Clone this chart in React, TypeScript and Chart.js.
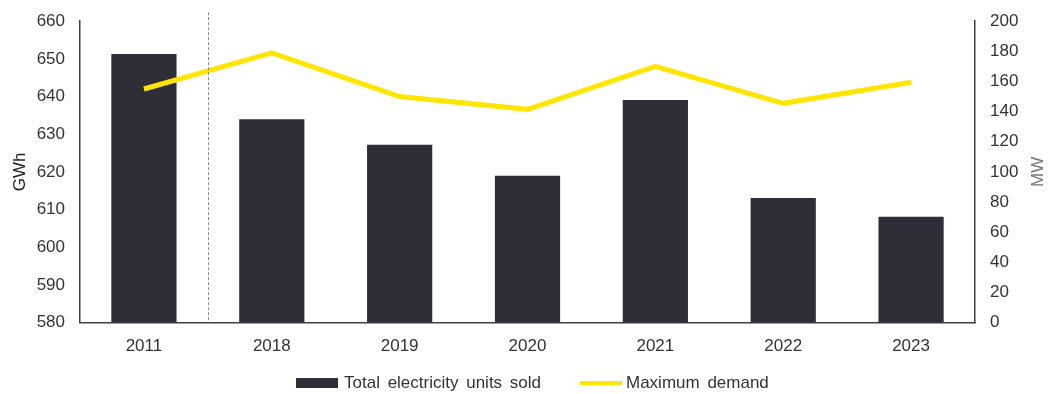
import React, { useEffect, useRef } from "react";
import { Chart, registerables } from "chart.js";

Chart.register(...registerables);

const categories = ["2011", "2018", "2019", "2020", "2021", "2022", "2023"];
const unitsSold = [651.3, 634.0, 627.2, 619.0, 639.1, 613.1, 608.1];
const maxDemand = [155, 179, 150, 141.5, 170, 145.5, 159.5];
const leftTicks = [580, 590, 600, 610, 620, 630, 640, 650, 660];
const rightTicks = [0, 20, 40, 60, 80, 100, 120, 140, 160, 180, 200];
const seriesNames = ["Total electricity units sold", "Maximum demand"];
const axisTitles = ["GWh", "MW"];

const FONT = "'Liberation Sans', Arial, sans-serif";
const FS = 17;
const BAR = "#2E2E38";
const YEL = "#FFE600";
const TXT = "#333333";
const MWC = "#747487";

const extrasPlugin = {
  id: "extras",
  afterDatasetsDraw(chart: any) {
    const x = chart.scales.x;
    const y = chart.scales.y;
    const px = (x.getPixelForValue(0) + x.getPixelForValue(1)) / 2;
    const ctx = chart.ctx;
    ctx.save();
    ctx.strokeStyle = "#8a8a8a";
    ctx.lineWidth = 1;
    ctx.setLineDash([3, 2]);
    ctx.beginPath();
    ctx.moveTo(Math.round(px) + 0.5, y.top - 9);
    ctx.lineTo(Math.round(px) + 0.5, y.bottom);
    ctx.stroke();
    ctx.restore();
  },
  afterDraw(chart: any) {
    const y1 = chart.scales.y1;
    const ctx = chart.ctx;
    ctx.save();
    ctx.translate(y1.right - 11, (y1.top + y1.bottom) / 2);
    ctx.rotate(-Math.PI / 2);
    ctx.fillStyle = MWC;
    ctx.font = `${FS}px ${FONT}`;
    ctx.textAlign = "center";
    ctx.textBaseline = "middle";
    ctx.fillText(axisTitles[1], 0, 0);
    ctx.restore();
  },
};

export default function App() {
  const ref = useRef<HTMLCanvasElement>(null);
  useEffect(() => {
    const chart = new Chart(ref.current!, {
      type: "bar",
      data: {
        labels: categories,
        datasets: [
          {
            type: "line",
            label: seriesNames[1],
            data: maxDemand,
            yAxisID: "y1",
            borderColor: YEL,
            backgroundColor: YEL,
            borderWidth: 5,
            pointRadius: 0,
            tension: 0,
            order: 0,
          },
          {
            type: "bar",
            label: seriesNames[0],
            data: unitsSold,
            yAxisID: "y",
            backgroundColor: BAR,
            barPercentage: 1,
            categoryPercentage: 0.51,
            order: 1,
          },
        ],
      },
      options: {
        animation: false,
        responsive: true,
        maintainAspectRatio: false,
        layout: { padding: { top: 0, bottom: 23, left: 0, right: 0 } },
        plugins: {
          tooltip: { enabled: false },
          legend: { display: false },
        },
        scales: {
          x: {
            grid: { display: false, drawTicks: false },
            border: { display: true, color: "#404040", width: 1.5 },
            ticks: { font: { family: FONT, size: FS }, color: TXT, padding: 14 },
          },
          y: {
            position: "left",
            min: 580,
            max: 660,
            afterBuildTicks: (s: any) => {
              s.ticks = leftTicks.map((v) => ({ value: v }));
            },
            afterFit: (s: any) => {
              s.width = 80;
            },
            grid: { display: false, drawTicks: false },
            border: { display: true, color: "#404040", width: 1.5 },
            ticks: { font: { family: FONT, size: FS }, color: TXT, padding: 15 },
            title: {
              display: true,
              text: axisTitles[0],
              font: { family: FONT, size: FS },
              color: "#222222",
              padding: { top: 10, bottom: 0 },
            },
          },
          y1: {
            position: "right",
            min: 0,
            max: 200,
            afterBuildTicks: (s: any) => {
              s.ticks = rightTicks.map((v) => ({ value: v }));
            },
            afterFit: (s: any) => {
              s.width = 74;
            },
            grid: { display: false, drawTicks: false },
            border: { display: true, color: "#404040", width: 1.5 },
            ticks: { font: { family: FONT, size: FS }, color: TXT, padding: 15 },
          },
        },
      },
      plugins: [extrasPlugin],
    } as any);
    return () => chart.destroy();
  }, []);

  const swatch = (color: string, h: number, left: number) => (
    <span
      style={{
        position: "absolute",
        left,
        top: 383 - h / 2,
        width: 42,
        height: h,
        background: color,
      }}
    />
  );
  const label = (text: string, left: number) => (
    <span
      style={{
        position: "absolute",
        left,
        top: 372,
        font: `${FS}px ${FONT}`,
        lineHeight: "22px",
        color: TXT,
        wordSpacing: 3,
        whiteSpace: "nowrap",
      }}
    >
      {text}
    </span>
  );

  return (
    <div
      style={{
        position: "fixed",
        left: 0,
        top: 0,
        width: 1049,
        height: 394,
        background: "#fff",
        overflow: "hidden",
      }}
    >
      <div style={{ position: "absolute", left: 0, top: -4, width: 1049, height: 398 }}>
        <canvas ref={ref} />
      </div>
      {swatch(BAR, 10, 296)}
      {label(seriesNames[0], 344)}
      {swatch(YEL, 4, 580)}
      {label(seriesNames[1], 626)}
    </div>
  );
}
